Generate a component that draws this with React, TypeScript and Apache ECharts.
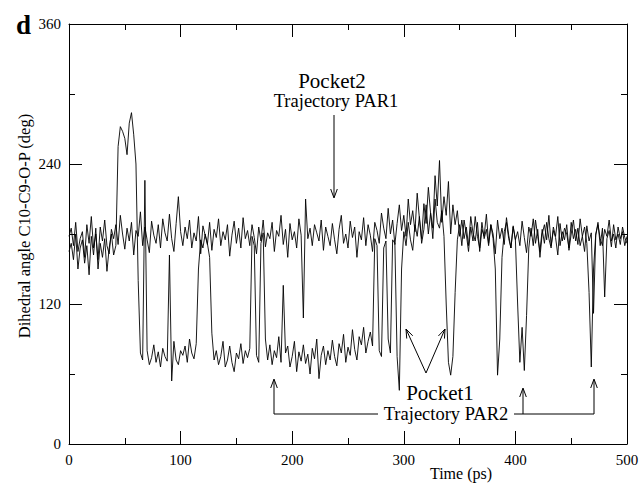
import React, { useEffect, useRef } from "react";
import * as echarts from "echarts";

// time step of the sampled trajectories (ps)
const STEP = 2;

// Trajectory PAR1 (Pocket2), dihedral angle (deg), t = 0..500 ps every 2 ps
const par1: number[] = [
  178,185,170,190,165,176,182,160,188,172,195,168,180,158,186,174,192,170,163,184,176,
  188,171,196,180,167,185,174,190,162,183,178,199,170,186,175,164,191,179,172,188,168,193,181,174,197,176,165,189,212,182,
  170,186,176,192,168,181,174,195,163,187,179,171,190,166,184,177,193,170,182,175,188,161,179,191,172,185,168,194,176,183,
  170,188,177,163,186,174,192,169,181,176,190,165,183,178,196,171,184,160,189,175,182,168,193,179,108,210,176,185,170,188,
  181,174,192,166,186,178,170,189,175,163,184,196,172,180,168,191,177,186,160,182,175,194,170,188,179,165,190,183,172,198,
  185,176,202,180,192,171,189,205,183,196,178,210,188,200,182,215,193,176,206,189,220,198,185,230,204,243,190,212,196,225,180,205,188,200,178,
  192,176,186,170,195,181,174,190,165,184,178,197,172,188,180,163,192,176,185,171,194,179,168,187,175,
  182,170,191,177,164,186,178,193,172,184,160,180,188,175,196,170,183,177,162,189,174,185,180,168,190,
  176,184,171,193,178,165,187,174,181,112,179,190,170,185,126,176,183,169,188,175,180,171,186,177,172,
];

// Trajectory PAR2 (Pocket1), dihedral angle (deg), t = 0..500 ps every 2 ps
const par2: number[] = [
  165,172,158,180,150,168,175,155,170,145,178,162,185,150,172,160,176,148,168,180,162,
  170,255,272,268,262,248,275,284,265,240,
  140,78,72,226,80,68,74,85,70,79,66,82,75,71,162,54,88,72,68,80,
  76,84,70,90,78,73,86,150,175,168,180,172,160,95,72,
  80,68,75,88,66,72,84,70,62,78,73,86,69,80,74,
  82,178,170,76,70,172,181,90,72,85,
  68,80,74,92,70,136,78,84,66,75,88,62,79,71,85,69,77,60,82,73,90,56,76,84,68,
  80,72,89,75,67,86,78,94,70,83,76,98,81,72,92,85,100,78,88,96,
  84,176,170,80,75,168,174,90,78,175,172,75,46,
  150,182,170,190,175,166,188,178,195,172,184,205,180,198,176,210,190,185,200,178,120,70,
  59,75,130,175,188,170,192,180,165,186,174,195,178,168,190,176,184,170,188,176,
  150,59,90,160,182,190,176,168,186,175,120,70,100,63,110,168,185,170,192,178,
  165,184,172,190,176,168,186,178,195,170,182,175,188,166,180,192,174,185,170,178,186,172,130,66,150,180,188,176,170,184,178,192,174,180,168,186,176,182,170,178,
];

const xMin = 0, xMax = 500, xInterval = 100;
const yMin = 0, yMax = 360, yInterval = 120;

const FONT = "'Liberation Serif', 'DejaVu Serif', serif";

function toPairs(vals: number[]) {
  return vals.map((v, i) => [i * STEP, v]);
}

function arrowHead(tipX: number, tipY: number, fromX: number, fromY: number, len = 9, half = 3.3) {
  const dx = tipX - fromX, dy = tipY - fromY;
  const L = Math.hypot(dx, dy);
  const ux = dx / L, uy = dy / L;
  const bx = tipX - ux * len, by = tipY - uy * len;
  const px = -uy, py = ux;
  return {
    type: "polyline",
    shape: { points: [[bx + px * half, by + py * half], [tipX, tipY], [bx - px * half, by - py * half]] },
    style: { stroke: "#000", lineWidth: 1, fill: "none" },
    silent: true,
  };
}

function seg(x1: number, y1: number, x2: number, y2: number) {
  return {
    type: "line",
    shape: { x1, y1, x2, y2 },
    style: { stroke: "#000", lineWidth: 1 },
    silent: true,
  };
}

function txt(text: string, x: number, y: number, size: number, extra: any = {}) {
  return {
    type: "text",
    x,
    y,
    silent: true,
    ...extra,
    style: {
      text,
      fill: "#000",
      font: `${extra.bold ? "bold " : ""}${size}px ${FONT}`,
      textAlign: extra.align || "center",
      textVerticalAlign: "middle",
    },
  };
}

export default function App() {
  const ref = useRef<HTMLDivElement>(null);
  useEffect(() => {
    if (!ref.current) return;
    const chart = echarts.init(ref.current, undefined, { renderer: "svg" });

    const axisCommon = {
      axisLine: { show: true, onZero: false, lineStyle: { color: "#000", width: 1 } },
      axisTick: { show: true, inside: true, length: 13, lineStyle: { color: "#000", width: 1 } },
      minorTick: { show: true, splitNumber: 2, length: 6, lineStyle: { color: "#000", width: 1 } },
      splitLine: { show: false },
    };

    const graphics: any[] = [
      txt("d", 16, 25, 27, { bold: true, align: "left" }),
      txt("Dihedral angle C10-C9-O-P (deg)", 24, 226, 16.5, { rotation: Math.PI / 2 }),
      txt("Time (ps)", 461, 473, 16),
      // Pocket2 annotation
      txt("Pocket2", 332, 81, 21),
      txt("Trajectory PAR1", 336, 101, 18.5),
      seg(334, 115, 334, 197),
      arrowHead(334, 198, 334, 115),
      // Pocket1 annotation
      txt("Pocket1", 440, 393, 21),
      txt("Trajectory PAR2", 446, 414, 18.5),
      seg(426, 373, 406, 329),
      arrowHead(406, 329, 426, 373),
      seg(426, 373, 445, 329),
      arrowHead(445, 329, 426, 373),
      {
        type: "polyline",
        shape: { points: [[378, 414], [274, 414], [274, 380]] },
        style: { stroke: "#000", lineWidth: 1, fill: "none" },
        silent: true,
      },
      arrowHead(274, 379, 274, 414),
      {
        type: "polyline",
        shape: { points: [[514, 414], [594, 414], [594, 380]] },
        style: { stroke: "#000", lineWidth: 1, fill: "none" },
        silent: true,
      },
      arrowHead(594, 379, 594, 414),
      seg(523, 414, 523, 389),
      arrowHead(523, 388, 523, 414),
    ];

    chart.setOption({
      animation: false,
      backgroundColor: "#fff",
      grid: { left: 69, right: 16, top: 24, bottom: 39, containLabel: false },
      xAxis: [
        {
          type: "value",
          min: xMin,
          max: xMax,
          interval: xInterval,
          position: "bottom",
          ...axisCommon,
          axisLabel: { show: true, color: "#000", fontFamily: FONT, fontSize: 15, margin: 8 },
        },
        {
          type: "value",
          min: xMin,
          max: xMax,
          interval: xInterval,
          position: "top",
          ...axisCommon,
          axisLabel: { show: false },
        },
      ],
      yAxis: [
        {
          type: "value",
          min: yMin,
          max: yMax,
          interval: yInterval,
          position: "left",
          ...axisCommon,
          axisLabel: { show: true, color: "#000", fontFamily: FONT, fontSize: 15, margin: 8 },
        },
        {
          type: "value",
          min: yMin,
          max: yMax,
          interval: yInterval,
          position: "right",
          ...axisCommon,
          axisLabel: { show: false },
        },
      ],
      series: [
        {
          name: "Trajectory PAR2",
          type: "line",
          data: toPairs(par2),
          showSymbol: false,
          symbol: "none",
          lineStyle: { color: "#000", width: 0.9 },
          z: 2,
        },
        {
          name: "Trajectory PAR1",
          type: "line",
          data: toPairs(par1),
          showSymbol: false,
          symbol: "none",
          lineStyle: { color: "#000", width: 0.9 },
          z: 3,
        },
      ],
      graphic: graphics,
    });

    return () => chart.dispose();
  }, []);

  return (
    <div
      ref={ref}
      style={{ position: "fixed", left: 0, top: 0, width: 643, height: 483, background: "#fff" }}
    />
  );
}
